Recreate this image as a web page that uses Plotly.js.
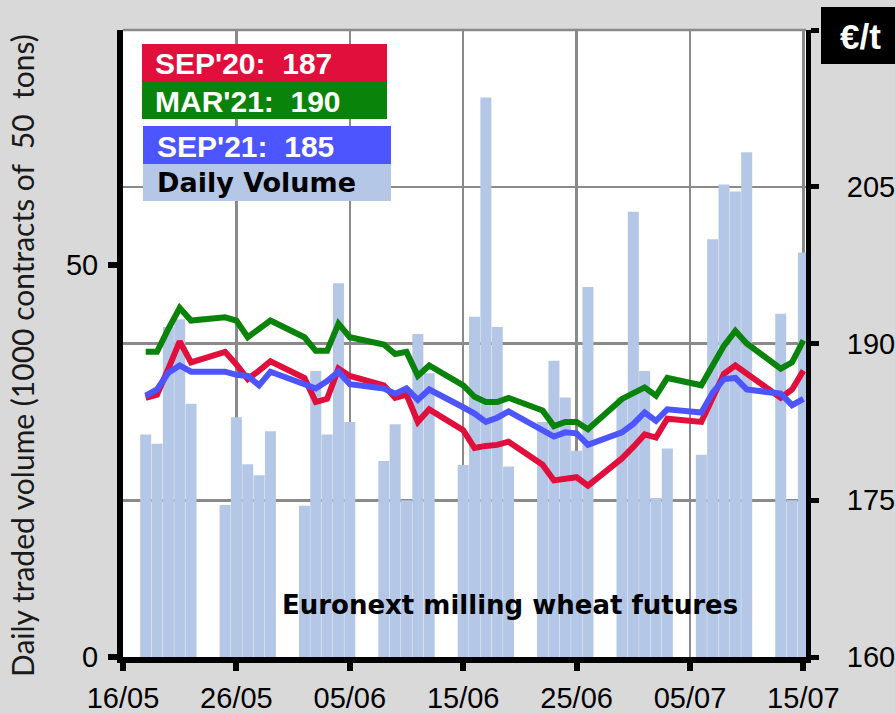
<!DOCTYPE html>
<html>
<head>
<meta charset="utf-8">
<script src="https://cdn.plot.ly/plotly-3.0.1.min.js"></script>
<style>
  html, body { margin: 0; padding: 0; background: #d9d9d9; }
  #chart { width: 895px; height: 714px; }
</style>
</head>
<body>
<div id="chart"></div>
<script>
// ---- Data ----
const dates = [
  '2020-05-18','2020-05-19','2020-05-20','2020-05-21','2020-05-22',
  '2020-05-25','2020-05-26','2020-05-27','2020-05-28','2020-05-29',
  '2020-06-01','2020-06-02','2020-06-03','2020-06-04','2020-06-05',
  '2020-06-08','2020-06-09','2020-06-10','2020-06-11','2020-06-12',
  '2020-06-15','2020-06-16','2020-06-17','2020-06-18','2020-06-19',
  '2020-06-22','2020-06-23','2020-06-24','2020-06-25','2020-06-26',
  '2020-06-29','2020-06-30','2020-07-01','2020-07-02','2020-07-03',
  '2020-07-06','2020-07-07','2020-07-08','2020-07-09','2020-07-10',
  '2020-07-13','2020-07-14','2020-07-15'
];
const dailyVolume = [
  28.4, 27.2, 42.1, 43.1, 32.3,
  19.4, 30.6, 24.6, 23.2, 28.8,
  19.3, 36.5, 28.4, 47.7, 30.0,
  25.0, 29.7, 20.0, 41.2, 36.2,
  24.5, 43.4, 71.4, 42.1, 24.3,
  30.0, 37.8, 33.1, 26.3, 47.2,
  33.1, 56.8, 36.5, 20.3, 26.6,
  25.8, 53.3, 60.3, 59.4, 64.4,
  43.8, 20.0, 51.6
];
const sep20 = [
  184.8, 185.1, 187.6, 190.2, 188.2,
  189.2, 188.0, 186.6, 187.4, 188.3,
  186.7, 184.4, 184.7, 187.6, 186.9,
  186.0, 184.8, 185.1, 182.5, 183.7,
  181.7, 180.0, 180.2, 180.3, 180.6,
  178.4, 176.9, 177.0, 177.2, 176.4,
  179.0, 180.1, 181.3, 181.0, 182.8,
  182.5, 184.7, 187.1, 187.9, 187.1,
  184.8, 185.6, 187.4
];
const mar21 = [
  189.2, 189.2, 191.4, 193.4, 192.2,
  192.5, 192.2, 190.6, 191.4, 192.2,
  190.6, 189.3, 189.3, 191.9, 190.6,
  189.9, 189.0, 189.2, 186.9, 187.9,
  186.0, 184.9, 184.4, 184.4, 184.8,
  183.6, 182.1, 182.5, 182.5, 181.8,
  184.7, 185.3, 185.8, 185.0, 186.7,
  186.0, 187.9, 189.8, 191.2, 190.0,
  187.6, 188.2, 190.3
];
const sep21 = [
  185.0, 185.6, 187.2, 187.9, 187.3,
  187.3, 187.0, 186.9, 186.0, 187.3,
  186.1, 185.7, 186.4, 187.3, 186.1,
  185.7, 185.2, 185.7, 184.6, 185.6,
  183.9, 183.3, 182.5, 182.9, 183.5,
  181.8, 181.1, 181.5, 181.4, 180.3,
  181.5, 182.3, 183.4, 182.6, 183.7,
  183.4, 185.3, 186.6, 186.7, 185.6,
  185.2, 184.1, 184.7
];
const legendLabels = ["SEP'20:\u00a0\u00a0187", "MAR'21:\u00a0\u00a0190", "SEP'21:\u00a0\u00a0185", "Daily Volume"];
const leftTicks = [0, 50];
const rightTicks = [160, 175, 190, 205, 220];
const rightTickText = ['160', '175', '190', '205', ''];
const yTitle = 'Daily traded volume (1000 contracts of\u00a0\u00a050\u00a0\u00a0tons)';
const chartNote = 'Euronext milling wheat futures';
const unitLabel = '€/t';

// ---- Geometry helpers (pixel -> paper) ----
const L = 123, R = 806, T = 30, B = 657;
const px = v => (v - L) / (R - L);
const py = v => (B - v) / (B - T);

const DAY = 86400000;
const RED = '#e00f3c', GREEN = '#0a830a', BLUE = '#4c55ff', LBLUE = '#b4c7e7';
const GRID = '#8a8a8a';

const traces = [
  { type: 'bar', x: dates, y: dailyVolume, yaxis: 'y', xaxis: 'x',
    width: dates.map(() => 0.97 * DAY),
    marker: { color: LBLUE, line: { width: 0 } }, hoverinfo: 'skip' },
  { type: 'scatter', mode: 'lines', x: dates, y: sep20, yaxis: 'y2',
    line: { color: RED, width: 6 } },
  { type: 'scatter', mode: 'lines', x: dates, y: mar21, yaxis: 'y2',
    line: { color: GREEN, width: 6 } },
  { type: 'scatter', mode: 'lines', x: dates, y: sep21, yaxis: 'y2',
    line: { color: BLUE, width: 6 } }
];

const tickFont = { family: 'Arial, Liberation Sans, sans-serif', size: 29, color: '#000' };

function rect(x0, y0, x1, y1, color) {
  return { type: 'rect', xref: 'paper', yref: 'paper', layer: 'above',
    x0: px(x0), x1: px(x1), y0: py(y1), y1: py(y0),
    fillcolor: color, line: { width: 0 } };
}

const layout = {
  width: 895, height: 714,
  paper_bgcolor: '#d9d9d9', plot_bgcolor: '#ffffff',
  margin: { l: L, r: 895 - R, t: T, b: 714 - B, pad: 0 },
  showlegend: false,
  xaxis: {
    type: 'date',
    range: ['2020-05-16', '2020-07-15 05:30'],
    tick0: '2020-05-16', dtick: 10 * DAY, tickformat: '%d/%m',
    showgrid: true, gridcolor: GRID, gridwidth: 2.5,
    showline: true, linecolor: '#000', linewidth: 6,
    ticks: 'outside', ticklen: 8, tickwidth: 6, tickcolor: '#000',
    tickfont: tickFont, zeroline: false, fixedrange: true,
    ticklabelstandoff: 2
  },
  yaxis: {
    range: [0, 80], tickvals: leftTicks,
    showgrid: false, zeroline: false,
    showline: true, linecolor: '#000', linewidth: 6,
    ticks: 'outside', ticklen: 9, tickwidth: 6, tickcolor: '#000',
    tickfont: tickFont, ticklabelstandoff: 4
  },
  yaxis2: {
    overlaying: 'y', side: 'right', range: [160, 220],
    tickvals: rightTicks, ticktext: rightTickText,
    showgrid: true, gridcolor: GRID, gridwidth: 2.5, zeroline: false,
    showline: true, linecolor: '#000', linewidth: 5,
    ticks: 'outside', ticklen: 8, tickwidth: 5, tickcolor: '#000',
    tickfont: tickFont, ticklabelstandoff: 22
  },
  shapes: [
    { type: 'line', xref: 'paper', yref: 'paper', x0: 0, x1: 1, y0: 1, y1: 1,
      line: { color: GRID, width: 2.5 }, layer: 'below' },
    rect(142, 44, 387, 82, RED),
    rect(142, 82, 387, 119, GREEN),
    rect(143, 126, 391, 164, BLUE),
    rect(143, 164, 391, 201, LBLUE),
    rect(821, 7, 900, 64, '#000000')
  ],
  annotations: [
    { xref: 'paper', yref: 'paper', x: px(153), y: py(64), xanchor: 'left', yanchor: 'middle',
      text: '<b>' + legendLabels[0] + '</b>', showarrow: false,
      font: { family: 'Arial, Liberation Sans, sans-serif', size: 30, color: '#fff' } },
    { xref: 'paper', yref: 'paper', x: px(153), y: py(101), xanchor: 'left', yanchor: 'middle',
      text: '<b>' + legendLabels[1] + '</b>', showarrow: false,
      font: { family: 'Arial, Liberation Sans, sans-serif', size: 30, color: '#fff' } },
    { xref: 'paper', yref: 'paper', x: px(155), y: py(146), xanchor: 'left', yanchor: 'middle',
      text: '<b>' + legendLabels[2] + '</b>', showarrow: false,
      font: { family: 'Arial, Liberation Sans, sans-serif', size: 30, color: '#fff' } },
    { xref: 'paper', yref: 'paper', x: px(155), y: py(182), xanchor: 'left', yanchor: 'middle',
      text: '<b>' + legendLabels[3] + '</b>', showarrow: false,
      font: { family: 'DejaVu Sans, sans-serif', size: 27, color: '#000' } },
    { xref: 'paper', yref: 'paper', x: px(510), y: py(605), xanchor: 'center', yanchor: 'middle',
      text: '<b>' + chartNote + '</b>', showarrow: false,
      font: { family: 'DejaVu Sans, sans-serif', size: 26, color: '#000' } },
    { xref: 'paper', yref: 'paper', x: px(860), y: py(37), xanchor: 'center', yanchor: 'middle',
      text: '<b>' + unitLabel + '</b>', showarrow: false,
      font: { family: 'Arial, Liberation Sans, sans-serif', size: 35, color: '#fff' } },
    { xref: 'paper', yref: 'paper', x: px(22), y: py(356), xanchor: 'center', yanchor: 'middle',
      textangle: -90, text: yTitle, showarrow: false,
      font: { family: 'Lato, sans-serif', size: 30, color: '#1a1a1a' } }
  ]
};

Plotly.newPlot('chart', traces, layout, { staticPlot: true, displayModeBar: false });
</script>
</body>
</html>
